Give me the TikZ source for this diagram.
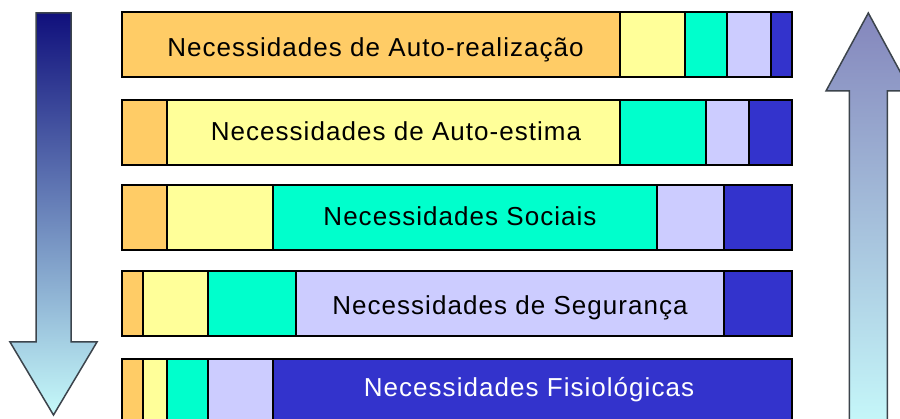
\documentclass[tikz,border=0pt]{standalone}
\usepackage{fontspec}
\setmainfont{Liberation Sans}[LetterSpace=4]
\definecolor{cOr}{HTML}{FFCC66}
\definecolor{cYe}{HTML}{FFFF99}
\definecolor{cTe}{HTML}{00FFCC}
\definecolor{cLa}{HTML}{CCCCFF}
\definecolor{cBl}{HTML}{3333CC}
\definecolor{arrEdge}{HTML}{3C444C}
\definecolor{lTop}{HTML}{10107C}
\definecolor{lMid}{HTML}{6E8CAA}
\definecolor{lBot}{HTML}{C6FAFA}
\definecolor{rTop}{HTML}{8486BC}
\definecolor{rMid}{HTML}{A8C8D8}
\definecolor{rBot}{HTML}{C8FCFC}
\begin{document}
\begin{tikzpicture}[x=1pt,y=-1pt,
  seg/.style={draw=black,line width=1.5pt},
  lbl/.style={font=\fontsize{26}{30}\selectfont,anchor=base,inner sep=0pt},
  bigarrow/.style={draw=arrEdge,line width=1.5pt,line join=miter}]
\useasboundingbox (0,0) rectangle (900,419);
\clip (0,0) rectangle (900,419);
\fill[white] (0,0) rectangle (900,419);
% left arrow (down)
\shadedraw[bigarrow,top color=lTop,middle color=lMid,bottom color=lBot]
  (36,13) -- (71,13) -- (71,342) -- (97,342) -- (53.5,415) -- (10,342) -- (36,342) -- cycle;
% right arrow (up)
\shadedraw[bigarrow,top color=rTop,middle color=rMid,bottom color=rBot]
  (868.3,13) -- (910.6,91) -- (887.3,91) -- (887.3,440) -- (849.3,440) -- (849.3,91) -- (826,91) -- cycle;
% bar 1
\foreach \a/\b/\c in {122/620/cOr,620/685/cYe,685/727/cTe,727/771/cLa,771/792/cBl}
  \draw[seg,fill=\c] (\a,12) rectangle (\b,77);
\node[lbl] (t1) at (375.5,57) {Necessidades de Auto-realização};
% bar 2
\foreach \a/\b/\c in {122/167/cOr,167/620/cYe,620/706/cTe,706/749/cLa,749/792/cBl}
  \draw[seg,fill=\c] (\a,100) rectangle (\b,165);
\node[lbl] (t2) at (396,141) {Necessidades de Auto-estima};
% bar 3
\foreach \a/\b/\c in {122/167/cOr,167/273/cYe,273/657/cTe,657/724/cLa,724/792/cBl}
  \draw[seg,fill=\c] (\a,185) rectangle (\b,250);
\node[lbl] (t3) at (460,226) {Necessidades Sociais};
% bar 4
\foreach \a/\b/\c in {122/143/cOr,143/208/cYe,208/296/cTe,296/724/cLa,724/792/cBl}
  \draw[seg,fill=\c] (\a,271) rectangle (\b,336);
\node[lbl] (t4) at (510,315) {Necessidades de Segurança};
% bar 5
\foreach \a/\b/\c in {122/143/cOr,143/167/cYe,167/208/cTe,208/273/cLa,273/792/cBl}
  \draw[seg,fill=\c] (\a,359) rectangle (\b,424);
\node[lbl,text=white] (t5) at (529,397) {Necessidades Fisiológicas};
\end{tikzpicture}
\end{document}
